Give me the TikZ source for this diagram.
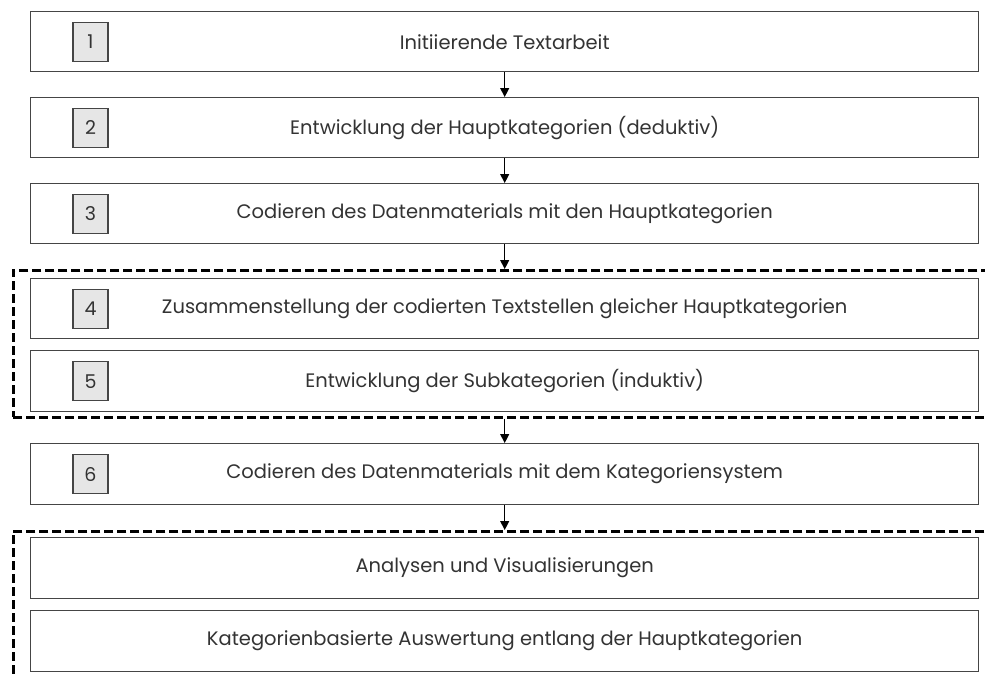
\documentclass[tikz,border=0pt]{standalone}
\usepackage{fontspec}
\setmainfont{Poppins}
\usetikzlibrary{arrows.meta}
\definecolor{framegray}{HTML}{454545}
\definecolor{textgray}{HTML}{333333}
\definecolor{numfill}{HTML}{E6E6E6}
\begin{document}
\begin{tikzpicture}[x=1pt,y=-1pt,
  stepbox/.style={draw=framegray,line width=1.4pt,minimum width=948pt,minimum height=60pt,
    inner sep=0pt,anchor=north west,fill=white},
  steptext/.style={font=\fontsize{19.5}{22}\selectfont,text=textgray},
  numbox/.style={draw=framegray,line width=1.3pt,fill=numfill,minimum width=35pt,minimum height=39pt,
    inner sep=0pt,font=\fontsize{19}{22}\selectfont,text=textgray},
  groupframe/.style={draw=black,line width=2.6pt,dash pattern=on 9pt off 4pt,anchor=north west,inner sep=0pt},
  flow/.style={draw=black,line width=1.2pt,-{Triangle[width=9pt,length=9pt]}}]
\useasboundingbox (0,0) rectangle (985,673);

% dashed groupings (they run past the right and lower page edges)
\node[groupframe,minimum width=1000pt,minimum height=147pt] (grp1) at (12,269) {};
\node[groupframe,minimum width=1000pt,minimum height=180pt] (grp2) at (12,530) {};

% process steps
\node[stepbox] (s1) at (30,11) {};
\node[stepbox] (s2) at (30,97) {};
\node[stepbox] (s3) at (30,183) {};
\node[stepbox] (s4) at (30,278) {};
\node[stepbox,minimum height=61pt] (s5) at (30,350) {};
\node[stepbox,minimum height=61pt] (s6) at (30,443) {};
\node[stepbox,minimum height=61pt] (s7) at (30,537) {};
\node[stepbox,minimum height=61pt] (s8) at (30,610) {};

\node[steptext] (t1) at (s1.center) {Initiierende Textarbeit};
\node[steptext] (t2) at (s2.center) {Entwicklung der Hauptkategorien (deduktiv)};
\node[steptext] (t3) at (s3.center) {Codieren des Datenmaterials mit den Hauptkategorien};
\node[steptext] (t4) at (s4.center) {Zusammenstellung der codierten Textstellen gleicher Hauptkategorien};
\node[steptext] (t5) at (s5.center) {Entwicklung der Subkategorien (induktiv)};
\node[steptext] (t6) at (s6.center) {Codieren des Datenmaterials mit dem Kategoriensystem};
\node[steptext] (t7) at (s7.center) {Analysen und Visualisierungen};
\node[steptext] (t8) at (s8.center) {Kategorienbasierte Auswertung entlang der Hauptkategorien};

% step numbers
\foreach \i in {1,...,6}{
  \node[numbox] (n\i) at ([xshift=60.5pt]s\i.west) {\i};
}

% connectors
\draw[flow] (s1.south) -- (s2.north);
\draw[flow] (s2.south) -- (s3.north);
\draw[flow] (s3.south) -- (s3.south |- grp1.north);
\draw[flow] (s5.south |- grp1.south) -- (s6.north);
\draw[flow] (s6.south) -- (s6.south |- grp2.north);
\end{tikzpicture}
\end{document}
